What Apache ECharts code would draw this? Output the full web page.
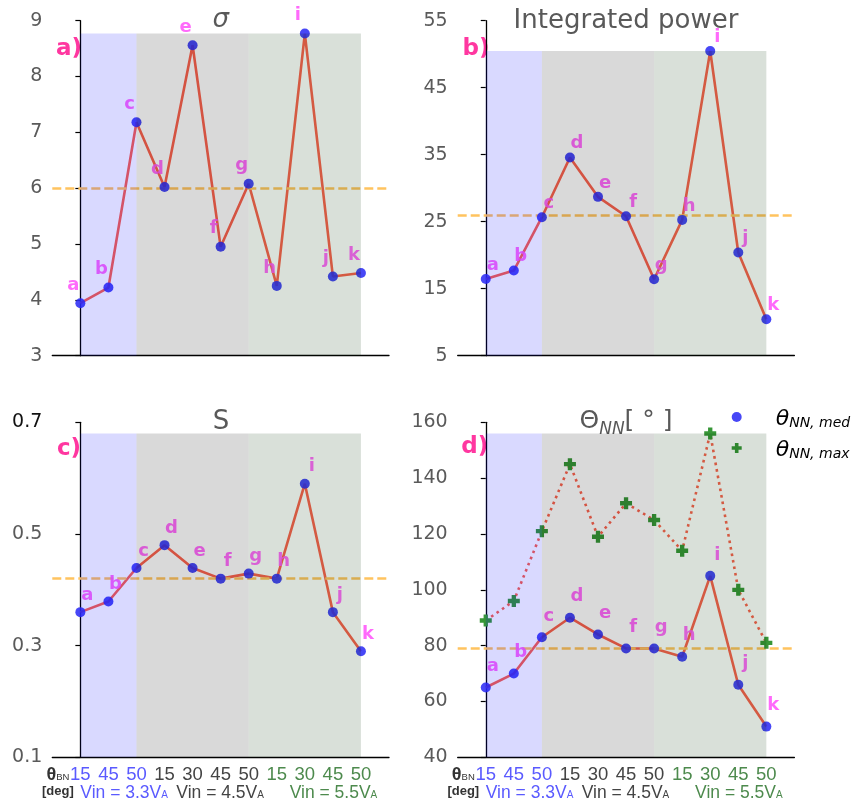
<!DOCTYPE html>
<html>
<head>
<meta charset="utf-8">
<script src="https://cdn.jsdelivr.net/npm/echarts@6.0.0/dist/echarts.min.js"></script>
<style>
html,body{margin:0;padding:0;background:#fff;}
#chart{width:856px;height:809px;}
</style>
</head>
<body>
<div id="chart"></div>
<script>
// ---------------- data ----------------
const pointLetters = ['a','b','c','d','e','f','g','h','i','j','k'];
const thetaBnLabels = ['15','45','50','15','30','45','50','15','30','45','50'];
const vinGroupOfPoint = [0,0,0,1,1,1,1,2,2,2,2];
const vinLabels = ['Vin = 3.3V','Vin = 4.5V','Vin = 5.5V'];

const sigmaValues = [3.94,4.22,7.18,6.02,8.56,4.95,6.08,4.25,8.77,4.42,4.48];
const powerValues = [16.46,17.71,25.67,34.59,28.71,25.82,16.41,25.27,50.47,20.4,10.44];
const sValues = [0.36,0.379,0.439,0.48,0.439,0.42,0.429,0.42,0.59,0.36,0.29];
const thetaMedValues = [65,70,83,90,84,79,79,76,105,66,51];
const thetaMaxValues = [89,96,121,145,119,131,125,114,156,100,81];

const refValues = [6.0, 26.0, 0.42, 79];
const bandTopValues = [8.77, 50.47, 0.68, 156];
const bandRanges = [[0,2],[2,6],[6,10]];
const yMins = [3, 5, 0.1, 40];
const yMaxs = [9, 55, 0.7, 160];
const ySteps = [1, 10, 0.2, 20];

// ---------------- styling ----------------
const BAND_COLORS = ['rgba(0,0,255,0.15)','rgba(0,0,0,0.15)','rgba(0,50,0,0.15)'];
const LINE = 'rgb(250,98,78)';
const MARK = 'rgb(45,45,245)';
const LETTER = 'rgb(255,85,250)';
const REF = 'rgb(255,195,95)';
const PLUS = 'rgb(55,150,55)';
const PANEL = 'rgb(255,55,160)';
const GROUP_COL = ['#5a5aff','#444444','#4d8a4d'];
const PLUS_PATH = 'path://M3.2,0H6.8V3.2H10V6.8H6.8V10H3.2V6.8H0V3.2H3.2Z';

const GL = [52.3, 457.7, 52.3, 457.7];
const GT = [20.7, 20.7, 422.3, 422.3];
const GW = 336.7, GH = 335;
const labelOffsets = [[-7,-18],[7,-14],[7,-17],[7,-21]];
const panelValues = [sigmaValues, powerValues, sValues, thetaMedValues];
const vinPos = [1.56, 4.98, 9.02];
const thetaPos = -0.8;

const grids = [], xAxes = [], yAxes = [], series = [];
for (let p = 0; p < 4; p++) {
  grids.push({left: GL[p], top: GT[p], width: GW, height: GH, containLabel: false, outerBoundsMode: 'none'});
  const bottomRow = p >= 2;
  const custom = [];
  for (let i = 0; i < pointLetters.length; i++) custom.push(i);
  custom.push(thetaPos);
  vinPos.forEach(v => custom.push(v));
  xAxes.push({
    gridIndex: p, type: 'value', min: -1, max: 11,
    axisLine: {show: true, onZero: false, lineStyle: {color: '#000', width: 1.3}},
    axisTick: {show: false}, splitLine: {show: false},
    axisLabel: bottomRow ? {
      show: true, margin: 9, customValues: custom, hideOverlap: false,
      formatter: function (value) {
        const v = +value;
        if (Math.abs(v - thetaPos) < 1e-6) return '{th|θ}{bn|BN}\n{deg|[deg]}';
        const vi = vinPos.findIndex(q => Math.abs(q - v) < 1e-6);
        if (vi >= 0) return '{v' + vi + '|' + vinLabels[vi] + '}{s' + vi + '|A}';
        const i = Math.round(v);
        return '{n' + vinGroupOfPoint[i] + '|' + thetaBnLabels[i] + '}';
      },
      rich: (function () {
        const r = {
          th: {fontFamily: 'Liberation Sans', fontWeight: 'bold', fontSize: 18, color: '#333', lineHeight: 18, verticalAlign: 'bottom'},
          bn: {fontFamily: 'Liberation Sans', fontSize: 9.5, color: '#333', lineHeight: 10, verticalAlign: 'bottom', padding: [0,0,2,0]},
          deg: {fontFamily: 'Liberation Sans', fontWeight: 'bold', fontSize: 13, color: '#333', lineHeight: 14}
        };
        for (let g = 0; g < 3; g++) {
          r['n' + g] = {fontFamily: 'Liberation Sans', fontSize: 18.5, color: GROUP_COL[g], lineHeight: 18};
          r['v' + g] = {fontFamily: 'Liberation Sans', fontSize: 17.5, color: GROUP_COL[g], lineHeight: 18, padding: [18,0,0,0], verticalAlign: 'top'};
          r['s' + g] = {fontFamily: 'Liberation Sans', fontSize: 10, color: GROUP_COL[g], lineHeight: 10, padding: [24,0,0,0], verticalAlign: 'top'};
        }
        return r;
      })()
    } : {show: false}
  });
  yAxes.push({
    gridIndex: p, type: 'value', min: yMins[p], max: yMaxs[p], interval: ySteps[p],
    axisLine: {show: true, lineStyle: {color: '#000', width: 1.3}},
    axisTick: {show: true, length: 5, lineStyle: {color: '#000', width: 1.2}},
    splitLine: {show: false},
    axisLabel: {
      margin: 10, fontSize: 19, fontFamily: 'DejaVu Sans',
      color: (val) => (p === 2 && Math.abs(+val - 0.7) < 1e-6) ? '#111' : '#5a5a5a'
    }
  });

  const vals = panelValues[p];
  series.push({
    type: 'line', xAxisIndex: p, yAxisIndex: p, z: 2, silent: true,
    symbol: 'none', data: vals.map((v, i) => [i, v]),
    lineStyle: {color: LINE, width: 2.6},
    markLine: {
      silent: true, symbol: 'none', z: 3, animation: false,
      label: {show: false},
      lineStyle: {color: REF, width: 2.6, type: [9, 4]},
      data: [{yAxis: refValues[p]}]
    },
    markArea: {
      silent: true, z: 10, animation: false,
      data: bandRanges.map((b, k) => [
        {xAxis: b[0], yAxis: yMins[p], itemStyle: {color: BAND_COLORS[k], borderWidth: 0}},
        {xAxis: b[1], yAxis: bandTopValues[p]}
      ])
    }
  });
  if (p === 3) {
    series.push({
      type: 'line', xAxisIndex: p, yAxisIndex: p, z: 2, silent: true,
      symbol: 'none', data: thetaMaxValues.map((v, i) => [i, v]),
      lineStyle: {color: LINE, width: 2.6, type: [2.6, 4]}
    });
    series.push({
      name: 'max', type: 'scatter', xAxisIndex: p, yAxisIndex: p, z: 4, silent: true,
      symbol: PLUS_PATH, symbolSize: 12,
      data: thetaMaxValues.map((v, i) => [i, v]),
      itemStyle: {color: PLUS, opacity: 1}
    });
  }
  series.push({
    name: p === 3 ? 'med' : 'pts' + p,
    type: 'scatter', xAxisIndex: p, yAxisIndex: p, z: 5, silent: true,
    symbol: 'circle', symbolSize: 10,
    data: vals.map((v, i) => [i, v]),
    itemStyle: {color: MARK, opacity: 0.88},
    label: {
      show: true, position: 'inside', offset: labelOffsets[p],
      formatter: (pp) => pointLetters[pp.dataIndex],
      color: LETTER, fontFamily: 'DejaVu Sans', fontWeight: 'bold', fontSize: 18
    }
  });
}

const titleFont = {fontFamily: 'DejaVu Sans', fontSize: 26, fill: '#595959'};
const panelFont = {fontFamily: 'DejaVu Sans', fontWeight: 'bold', fontSize: 23, fill: PANEL, align: 'center', verticalAlign: 'middle'};
const graphic = [
  {type: 'text', x: 220.7, y: 20, style: Object.assign({text: 'σ', fontStyle: 'italic', align: 'center', verticalAlign: 'middle'}, titleFont)},
  {type: 'text', x: 626, y: 21, style: Object.assign({text: 'Integrated power', align: 'center', verticalAlign: 'middle'}, titleFont)},
  {type: 'text', x: 221, y: 422.7, style: Object.assign({text: 'S', align: 'center', verticalAlign: 'middle'}, titleFont)},
  {type: 'text', x: 626, y: 423.4, style: {
    text: '{a|Θ}{b|NN}{a|[ ° ]}', align: 'center', verticalAlign: 'middle',
    rich: {
      a: {fontFamily: 'DejaVu Sans', fontSize: 25, fill: '#595959', lineHeight: 28, verticalAlign: 'top'},
      b: {fontFamily: 'DejaVu Sans', fontStyle: 'italic', fontSize: 17, fill: '#595959', lineHeight: 20, padding: [12,0,0,0], verticalAlign: 'top'}
    }
  }},
  {type: 'text', x: 69, y: 49, style: Object.assign({text: 'a)'}, panelFont)},
  {type: 'text', x: 476, y: 49, style: Object.assign({text: 'b)'}, panelFont)},
  {type: 'text', x: 69, y: 449, style: Object.assign({text: 'c)'}, panelFont)},
  {type: 'text', x: 474.7, y: 447.4, style: Object.assign({text: 'd)'}, panelFont)}
];

const chart = echarts.init(document.getElementById('chart'), null, {renderer: 'canvas'});
chart.setOption({
  animation: false,
  backgroundColor: '#fff',
  grid: grids, xAxis: xAxes, yAxis: yAxes, series: series, graphic: graphic,
  legend: {
    show: true, orient: 'vertical', left: 731.7, top: 408, padding: 0,
    itemWidth: 10, itemHeight: 10, itemGap: 9, selectedMode: false,
    data: [{name: 'med', icon: 'circle'}, {name: 'max', icon: PLUS_PATH}],
    formatter: (name) => name === 'med' ? '{t|θ}{s|NN, med}' : '{t|θ}{s|NN, max}',
    textStyle: {
      rich: {
        t: {fontFamily: 'DejaVu Sans', fontStyle: 'italic', fontSize: 22, color: '#000', lineHeight: 26, verticalAlign: 'bottom', padding: [0,0,0,29]},
        s: {fontFamily: 'DejaVu Sans', fontStyle: 'italic', fontSize: 14, color: '#000', lineHeight: 15, verticalAlign: 'bottom'}
      }
    }
  }
});
</script>
</body>
</html>
